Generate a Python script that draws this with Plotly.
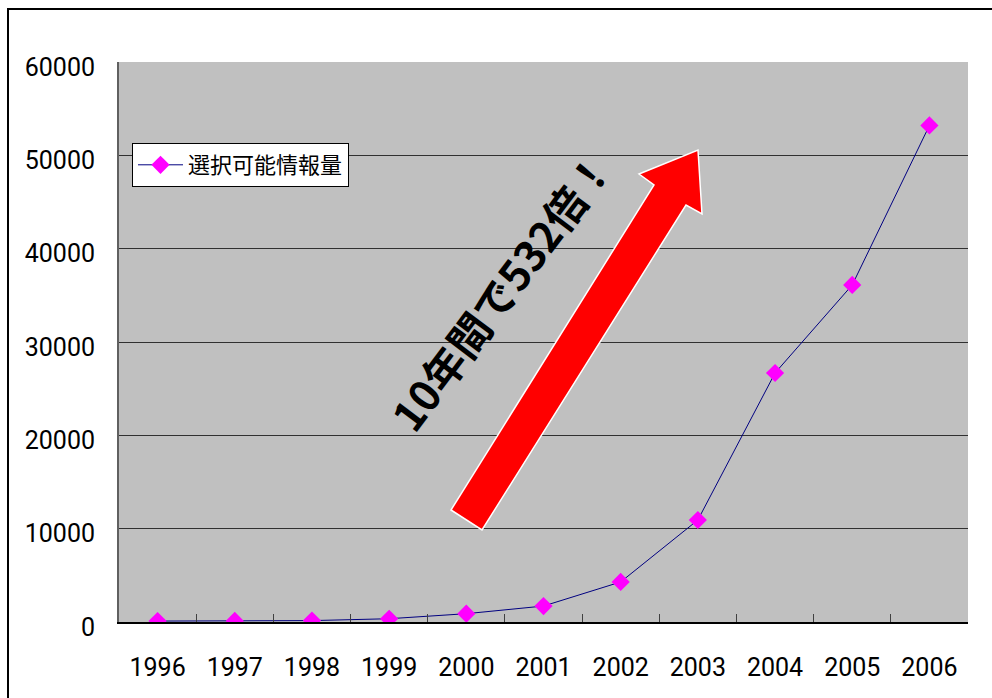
import plotly.graph_objects as go

# Data: selectable information volume per year
years = ["1996", "1997", "1998", "1999", "2000", "2001", "2002", "2003", "2004", "2005", "2006"]
volume = [100, 120, 150, 350, 890, 1710, 4290, 10930, 26680, 36110, 53200]
series_name = "選択可能情報量"
callout_text = "10年間で532倍！"
y_ticks = [0, 10000, 20000, 30000, 40000, 50000, 60000]

W, H = 992, 698
L, R, T, B = 119, 968, 62, 622


def px(x, y):
    """Convert page pixel coordinates to paper coordinates."""
    return (x - L) / (R - L), (B - y) / (B - T)


num_font = "Roboto, sans-serif"
jp_font = "Noto Sans CJK JP, sans-serif"

fig = go.Figure()
fig.add_trace(go.Scatter(
    x=years, y=volume, name=series_name, mode="lines+markers",
    line=dict(color="#000080", width=1),
    marker=dict(symbol="diamond", size=14, color="#FF00FF", line=dict(width=0)),
))

# Red rising arrow
arrow_pts = [(451, 510), (482, 530), (686, 205), (702, 214), (698, 150),
             (639, 174), (654, 185)]
path = "M " + " L ".join("{:.5f},{:.5f}".format(*px(x, y)) for x, y in arrow_pts) + " Z"
shapes = [
    dict(type="path", xref="paper", yref="paper", path=path,
         fillcolor="#FF0000", line=dict(color="white", width=1.5), layer="above"),
]

# Outer chart frame
fx0, fy0 = px(8, 9)
fx1, fy1 = px(1100, 800)
shapes.append(dict(type="rect", xref="paper", yref="paper", x0=fx0, y0=fy1, x1=fx1, y1=fy0,
                   line=dict(color="black", width=2), fillcolor="rgba(0,0,0,0)", layer="below"))

tx, ty = px(500, 290)
annotations = [dict(
    text="<b>" + callout_text + "</b>", xref="paper", yref="paper", x=tx, y=ty,
    showarrow=False, textangle=-53,
    font=dict(family=jp_font, size=42, color="black"),
    xanchor="center", yanchor="middle",
)]

lx, ly = px(132, 143)

fig.update_layout(
    width=W, height=H,
    margin=dict(l=L, r=W - R, t=T, b=H - B),
    paper_bgcolor="white",
    plot_bgcolor="#C0C0C0",
    showlegend=True,
    legend=dict(x=lx, y=ly, xanchor="left", yanchor="top",
                bgcolor="white", bordercolor="black", borderwidth=1,
                itemwidth=45,
                font=dict(family=jp_font, size=22, color="black")),
    shapes=shapes,
    annotations=annotations,
    xaxis=dict(
        type="category", range=[-0.5, 10.5], showgrid=False, tickson="boundaries",
        ticks="inside", ticklen=8, tickcolor="#404040", tickwidth=1,
        showline=True, linecolor="black", linewidth=2,
        tickfont=dict(family=num_font, size=25, color="black"),
        ticklabelstandoff=22, fixedrange=True,
    ),
    yaxis=dict(
        range=[0, 60000], tickvals=y_ticks, ticktext=[str(v) for v in y_ticks],
        showgrid=True, gridcolor="#303030", gridwidth=1,
        showline=True, linecolor="#606060", linewidth=2,
        zeroline=False, ticks="",
        tickfont=dict(family=num_font, size=25, color="black"),
        ticklabelstandoff=17, ticklabelshift=5, fixedrange=True,
    ),
)

fig.write_html("out.html")
